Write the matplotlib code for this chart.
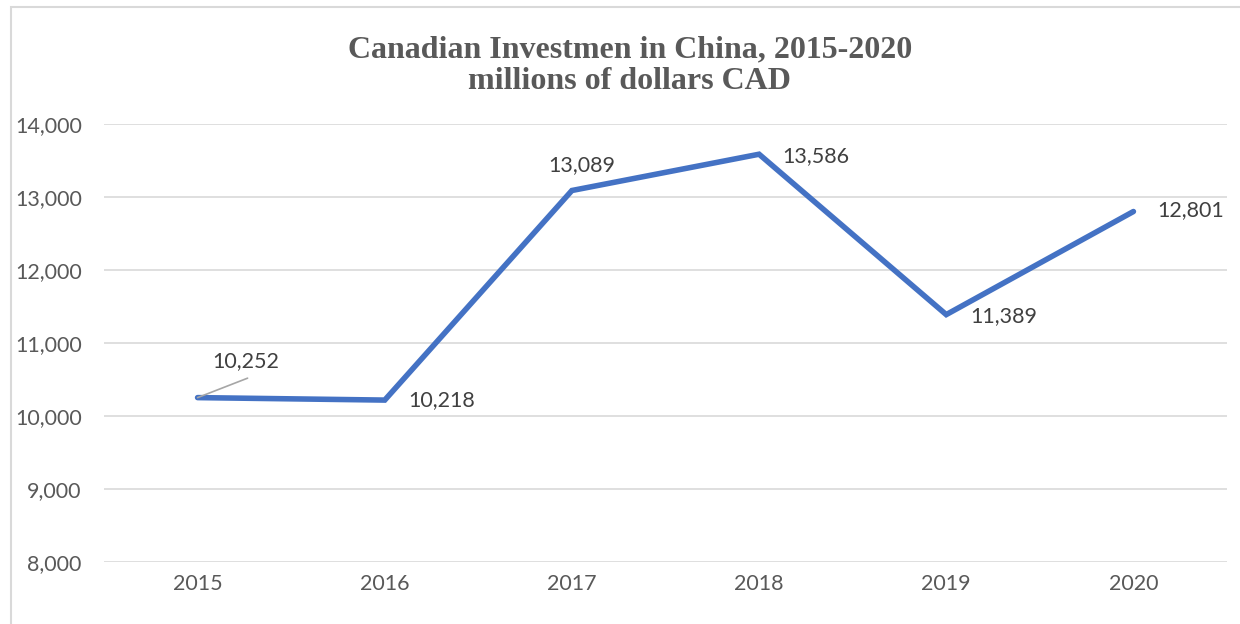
"""Canadian investment in China line chart"""

import matplotlib
matplotlib.use("Agg")
import matplotlib.pyplot as plt
from matplotlib.patches import Rectangle
from matplotlib.ticker import FuncFormatter

years = ["2015", "2016", "2017", "2018", "2019", "2020"]
investment = [10252, 10218, 13089, 13586, 11389, 12801]
# label offsets in points from each point, with horizontal alignment
label_offsets = [(35, 26), (17, 0), (7, 18), (17, -1), (17, -1), (17, 1)]
label_align = ["center", "left", "center", "left", "left", "left"]

GRAY_TEXT = "#595959"
GRID = "#D9D9D9"
BLUE = "#4472C4"

plt.rcParams["font.family"] = ["Lato", "DejaVu Sans"]

fig = plt.figure(figsize=(12.4, 6.24), dpi=100)
ax = fig.add_axes([104 / 1240, 1 - 562 / 624, 1123 / 1240, 438 / 624])

# outer chart border
fig.patches.append(Rectangle((11 / 1240, -0.05), 1.2, 1.05 - 7 / 624,
                             transform=fig.transFigure, fill=False,
                             edgecolor=GRID, linewidth=1.5))

xs = list(range(len(years)))
ax.plot(xs, investment, color=BLUE, linewidth=4.0,
        solid_capstyle="round", solid_joinstyle="miter", zorder=3)

for x, val, off, ha in zip(xs, investment, label_offsets, label_align):
    ax.annotate(f"{val:,}", (x, val), xytext=off, textcoords="offset points",
                ha=ha, va="center", fontsize=15.5, color="#404040")

# leader line for the first label
ax.annotate("", (0, investment[0]), xytext=(36, 14),
            textcoords="offset points",
            arrowprops=dict(arrowstyle="-", color="#A6A6A6", lw=1.2,
                            shrinkA=0, shrinkB=0))

ax.set_xlim(-0.5, 5.5)
ax.set_ylim(8000, 14000)
ax.set_yticks(range(8000, 14001, 1000))
ax.yaxis.set_major_formatter(FuncFormatter(lambda v, p: f"{int(v):,}"))
ax.set_xticks(xs)
ax.set_xticklabels(years)
ax.grid(axis="y", color=GRID, linewidth=1.2)
ax.set_axisbelow(True)
for s in ax.spines.values():
    s.set_visible(False)
ax.tick_params(axis="both", length=0, labelsize=15.5, labelcolor=GRAY_TEXT)
ax.tick_params(axis="y", pad=16)
ax.tick_params(axis="x", pad=9)

fig.text(0.508, 1 - 66 / 624,
         "Canadian Investmen in China, 2015-2020\nmillions of dollars CAD",
         ha="center", va="center", fontsize=23, fontweight="bold",
         color=GRAY_TEXT, family=["Liberation Serif", "DejaVu Serif"],
         linespacing=1.1)

fig.savefig("out.png", dpi=100)
